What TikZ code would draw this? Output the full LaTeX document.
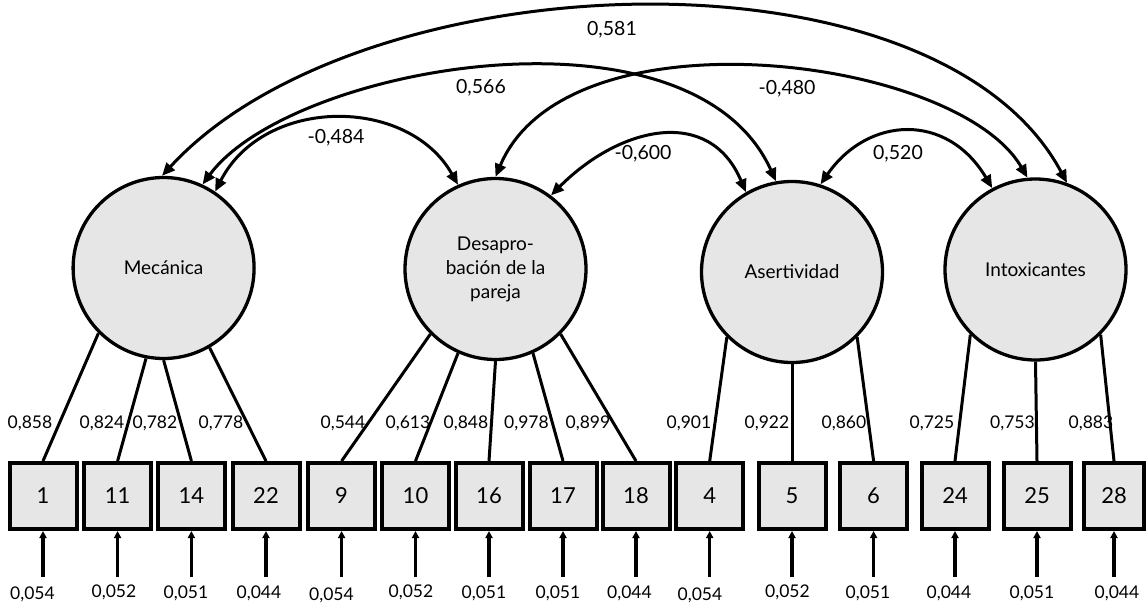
\documentclass[tikz,border=0pt]{standalone}
\usepackage{fontspec}
\setmainfont{Lato}
\usetikzlibrary{arrows.meta}
\definecolor{fillgray}{HTML}{E6E6E6}
\begin{document}
\begin{tikzpicture}[x=1pt,y=-1pt,
  latent/.style={circle, draw, line width=3.3pt, fill=fillgray, minimum size=181pt, inner sep=0pt, align=center, font=\fontsize{19}{24}\selectfont},
  obs/.style={rectangle, draw, line width=4pt, fill=fillgray, minimum width=67pt, minimum height=66pt, inner sep=0pt, font=\fontsize{22}{24}\selectfont},
  load/.style={line width=3pt},
  cov/.style={line width=3pt, {Triangle[length=13pt,width=11pt]}-{Triangle[length=13pt,width=11pt]}},
  err/.style={line width=3.3pt, -{Triangle[length=7pt,width=7pt]}},
  lbl/.style={inner sep=0pt, font=\fontsize{17.5}{18}\selectfont, text height=12.5pt, text depth=0pt},
  clbl/.style={inner sep=0pt, font=\fontsize{19.5}{20}\selectfont, text height=14pt, text depth=0pt}
]
\useasboundingbox (0,0) rectangle (1146,605);

% latent variables
\node[latent] (mec) at (163.6,268) {Mecánica};
\node[latent] (des) at (495.5,269) {Desapro-\\bación de la\\pareja};
\node[latent] (ase) at (792,272) {Asertividad};
\node[latent] (int) at (1035.5,269.5) {Intoxicantes};

% observed variables
\foreach \n/\x in {1/43, 11/117.6, 14/191.4, 22/266, 9/341.6, 10/415.5, 16/489, 17/563, 18/636, 4/709.7, 5/792, 6/873.6, 24/955, 25/1037}{
  \node[obs] (b\n) at (\x,496) {\n};
}
\node[obs, minimum width=60pt] (b28) at (1114,496) {28};

% loadings
\draw[load] (mec.225) -- (b1.north);
\draw[load] (mec.259) -- (b11.north);
\draw[load] (mec.270) -- (b14.north);
\draw[load] (mec.300) -- (b22.north);
\draw[load] (des.225) -- (b9.north);
\draw[load] (des.246) -- (b10.north);
\draw[load] (des.270) -- (b16.north);
\draw[load] (des.294) -- (b17.north);
\draw[load] (des.315) -- (b18.north);
\draw[load] (ase.225) -- (b4.north);
\draw[load] (ase.270) -- (b5.north);
\draw[load] (ase.315) -- (b6.north);
\draw[load] (int.225) -- (b24.north);
\draw[load] (int.270) -- (b25.north);
\draw[load] (int.315) -- (b28.north);

% loading labels
\foreach \t/\x [count=\i] in {{0,858}/30, {0,824}/102, {0,782}/155, {0,778}/221, {0,544}/343, {0,613}/408, {0,848}/466, {0,978}/526.5, {0,899}/588, {0,901}/689, {0,922}/767, {0,860}/844, {0,725}/932, {0,753}/1012.5, {0,883}/1091}{
  \node[lbl] (l\i) at (\x,422) {\t};
}

% error terms
\foreach \n/\x/\lx/\ly/\t in {1/43/32.5/593/{0,054}, 11/117.6/114/591/{0,052}, 14/191.4/186/592/{0,051}, 22/266/259/592/{0,044}, 9/341.6/331.5/594/{0,054}, 10/415.5/411/591/{0,052}, 16/489/484/592/{0,051}, 17/563/558/592/{0,051}, 18/636/629.5/592/{0,044}, 4/709.7/700/594/{0,054}, 5/792/787.5/591/{0,052}, 6/873.6/868/592/{0,051}, 24/955/949/592/{0,044}, 25/1037/1032/592/{0,051}}{
  \coordinate (e\n) at (\x,577);
  \draw[err] (e\n) -- (b\n.south);
  \node[lbl] (el\n) at (\lx,\ly) {\t};
}
\coordinate (e28) at (1114,577);
\draw[err] (e28) -- (b28.south);
\node[lbl] (el28) at (1117,592) {0,044};

% covariances
\draw[cov] (mec.91) .. controls (360,-40) and (936,-62) .. (int.70);
\draw[cov] (mec.65) .. controls (290,66) and (691,-6) .. (ase.100);
\draw[cov] (mec.56) .. controls (264,96) and (408,96) .. (des.114);
\draw[cov] (des.90) .. controls (567,7) and (957,56) .. (int.95);
\draw[cov] (des.53) .. controls (619,127) and (709,105) .. (ase.120);
\draw[cov] (ase.72) .. controls (868,116) and (947,112) .. (int.118);

\node[clbl] (c1) at (612,28) {0,581};
\node[clbl] (c2) at (481,86) {0,566};
\node[clbl] (c3) at (336,136) {-0,484};
\node[clbl] (c4) at (787,87) {-0,480};
\node[clbl] (c5) at (643,152) {-0,600};
\node[clbl] (c6) at (898,152) {0,520};
\end{tikzpicture}
\end{document}
